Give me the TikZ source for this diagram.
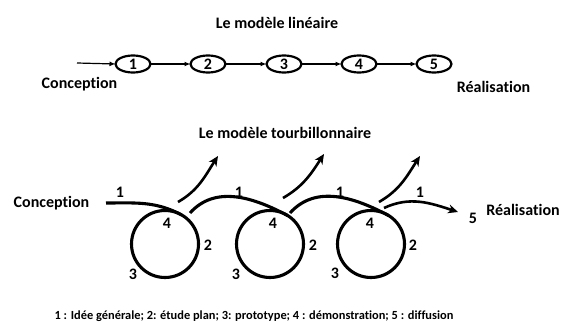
\documentclass[tikz,border=0pt]{standalone}
\usepackage{fontspec}
\setmainfont{Carlito}[Ligatures=NoCommon]
\usetikzlibrary{arrows.meta,shapes.geometric}
\begin{document}
\begin{tikzpicture}[x=1pt,y=1pt,
  lbl/.style={font=\fontsize{16}{18}\selectfont\bfseries, inner sep=0pt},
  num/.style={font=\fontsize{16}{18}\selectfont\bfseries, inner sep=0pt},
  stage/.style={draw, line width=2.2pt, ellipse, minimum width=35pt, minimum height=17pt, inner sep=0pt, outer sep=0pt, font=\fontsize{16}{18}\selectfont\bfseries},
  lin/.style={-{Latex[length=6pt,width=5pt]}, line width=1.2pt},
  whirl/.style={draw, circle, minimum size=67pt, inner sep=0pt, outer sep=0pt, line width=3.1pt},
  loopline/.style={line width=3.1pt},
  outarrow/.style={line width=2.6pt, -{Stealth[length=10pt,width=9pt]}}]
\useasboundingbox[fill=white] (0,0) rectangle (562,322);

% ---- linear model ----
\node[lbl] (t1) at (277,299) {Le modèle linéaire};
\coordinate (ls) at (77,259);
\node[stage] (e1) at (133,258) {1};
\node[stage] (e2) at (208,258) {2};
\node[stage] (e3) at (284,258) {3};
\node[stage] (e4) at (359,258) {4};
\node[stage] (e5) at (434,258) {5};
\draw[lin] (ls) -- (e1.west);
\draw[lin] (e1.east) -- (e2.west);
\draw[lin] (e2.east) -- (e3.west);
\draw[lin] (e3.east) -- (e4.west);
\draw[lin] (e4.east) -- (e5.west);
\node[lbl] (conc1) at (79.5,238) {Conception};
\node[lbl] (real1) at (493.5,235) {Réalisation};

% ---- whirlpool model ----
\node[lbl] (t2) at (285,189) {Le modèle tourbillonnaire};
\node[lbl] (conc2) at (51.5,119) {Conception};
\node[lbl] (real2) at (523,112) {Réalisation};

\node[whirl] (c1) at (165,78) {};
\node[whirl] (c2) at (270,78) {};
\node[whirl] (c3) at (371,78) {};

\coordinate (in1) at (106,119);
\coordinate (x1) at (190,109);
\coordinate (x2) at (290,109);
\coordinate (x3) at (384,114);
\coordinate (end5) at (458,110);

\draw[loopline] (in1) to[out=0,in=152] (c1.60);
\draw[loopline] (x1) to[out=48,in=152] (c2.58);
\draw[loopline] (x2) to[out=48,in=152] (c3.58);
\draw[outarrow] (x3) to[out=25,in=162] (end5);

\coordinate (a1s) at (178,120);
\coordinate (a1e) at (218,166);
\coordinate (a2s) at (283,124);
\coordinate (a2e) at (324,168);
\coordinate (a3s) at (379,120);
\coordinate (a3e) at (420,166);
\draw[outarrow] (a1s) to[out=30,in=237] (a1e);
\draw[outarrow] (a2s) to[out=30,in=237] (a2e);
\draw[outarrow] (a3s) to[out=30,in=237] (a3e);

\node[num] (n1a) at (120,130) {1};
\node[num] (n1b) at (239,130) {1};
\node[num] (n1c) at (340,130) {1};
\node[num] (n1d) at (420,130) {1};
\node[num] (n4a) at (167,99) {4};
\node[num] (n4b) at (273,99) {4};
\node[num] (n4c) at (370,99) {4};
\node[num] (n2a) at (208,77) {2};
\node[num] (n2b) at (313,77) {2};
\node[num] (n2c) at (413,77) {2};
\node[num] (n3a) at (133,48) {3};
\node[num] (n3b) at (236,48) {3};
\node[num] (n3c) at (335,49) {3};
\node[num] (n5) at (473,104) {5};

\node[font=\fontsize{12.4}{14}\selectfont\bfseries, inner sep=0pt] (legend) at (254,6)
  {1 : Idée générale; 2: étude plan; 3: prototype; 4 : démonstration; 5 : diffusion};
\end{tikzpicture}
\end{document}
